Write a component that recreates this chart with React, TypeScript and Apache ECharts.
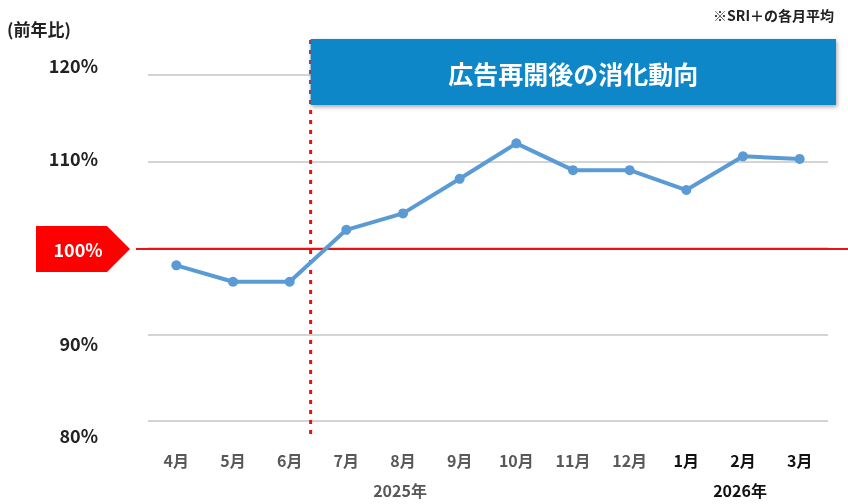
import React, { useEffect, useRef } from "react";
import * as echarts from "echarts";

const months = ["4月", "5月", "6月", "7月", "8月", "9月", "10月", "11月", "12月", "1月", "2月", "3月"];
const values = [98.0, 96.1, 96.1, 102.1, 104.0, 108.0, 112.1, 109.0, 109.0, 106.7, 110.6, 110.3];
const yearLabels = [
  { text: "2025年", month: "8月", color: "#595959" },
  { text: "2026年", month: "2月", color: "#111111" },
];
const yTicks = { min: 80, max: 120, interval: 10 };
const baseline = 100;
const bannerText = "広告再開後の消化動向";
const noteText = "※SRI＋の各月平均";
const unitText = "(前年比)";

const FONT = "'Noto Sans CJK JP', 'Noto Sans', sans-serif";

export default function App() {
  const ref = useRef<HTMLDivElement>(null);
  useEffect(() => {
    const el = ref.current!;
    const chart = echarts.init(el, null, { renderer: "svg" });
    const option: any = {
      animation: false,
      textStyle: { fontFamily: FONT },
      grid: [
        { left: 148, right: 20, top: 75, bottom: 83 },
        { left: 148, right: 20, top: 65, bottom: 69 },
      ],
      xAxis: [
        {
          type: "category",
          gridIndex: 0,
          data: months,
          axisLine: { show: false },
          axisTick: { show: false },
          axisLabel: {
            interval: 0,
            margin: 31,
            fontFamily: FONT,
            formatter: (v: string, i: number) => (i >= 9 ? `{b|${v}}` : `{a|${v}}`),
            rich: {
              a: { color: "#595959", fontSize: 16, fontWeight: "bold", fontFamily: FONT },
              b: { color: "#111111", fontSize: 16, fontWeight: "bold", fontFamily: FONT },
            },
          },
        },
        {
          type: "category",
          gridIndex: 1,
          data: months,
          show: false,
        },
      ],
      yAxis: [
        {
          type: "value",
          gridIndex: 0,
          min: yTicks.min,
          max: yTicks.max,
          interval: yTicks.interval,
          axisLine: { show: false },
          axisTick: { show: false },
          axisLabel: { show: false },
          splitLine: { lineStyle: { color: "#d4d4d4", width: 2 } },
        },
        {
          type: "value",
          gridIndex: 1,
          min: yTicks.min,
          max: yTicks.max,
          interval: yTicks.interval,
          axisLine: { show: false },
          axisTick: { show: false },
          splitLine: { show: false },
          axisLabel: {
            margin: 50,
            fontSize: 18,
            fontWeight: "bold",
            color: "#222222",
            fontFamily: FONT,
            formatter: (v: number) => (v === baseline ? "" : `${v}%`),
          },
        },
      ],
      series: [
        {
          type: "line",
          xAxisIndex: 0,
          yAxisIndex: 0,
          data: values,
          symbol: "circle",
          symbolSize: 10,
          lineStyle: { color: "#5b9bd5", width: 4 },
          itemStyle: { color: "#5b9bd5" },
          z: 5,
        },
      ],
    };
    chart.setOption(option);

    const yBase = chart.convertToPixel({ yAxisIndex: 0 }, baseline) + 1;
    const x6 = chart.convertToPixel({ xAxisIndex: 0 }, "6月");
    const x7 = chart.convertToPixel({ xAxisIndex: 0 }, "7月");
    const xDiv = x6 + (x7 - x6) * 0.37;
    const yBottom = chart.convertToPixel({ yAxisIndex: 0 }, yTicks.min) + 15;
    const yearEls = yearLabels.map((y) => ({
      type: "text",
      x: chart.convertToPixel({ xAxisIndex: 0 }, y.month) - 3,
      y: 490,
      style: {
        text: y.text,
        fill: y.color,
        font: `bold 16px ${FONT}`,
        align: "center",
        verticalAlign: "middle",
      },
    }));

    chart.setOption({
      graphic: [
        {
          type: "text",
          x: 7,
          y: 28,
          style: { text: unitText, fill: "#222222", font: `bold 17px ${FONT}`, verticalAlign: "middle" },
        },
        {
          type: "text",
          x: 834,
          y: 15,
          style: { text: noteText, fill: "#222222", font: `bold 14px ${FONT}`, align: "right", verticalAlign: "middle" },
        },
        {
          type: "line",
          shape: { x1: xDiv, y1: 40, x2: xDiv, y2: yBottom },
          style: { stroke: "#ee1111", lineWidth: 3, lineDash: [4, 6] },
          z: 3,
        },
        {
          type: "rect",
          shape: { x: xDiv, y: 39, width: 836 - xDiv, height: 66 },
          style: {
            fill: "#0a87c8",
            shadowBlur: 4,
            shadowColor: "rgba(0,0,0,0.35)",
            shadowOffsetX: 1,
            shadowOffsetY: 2,
          },
          z: 10,
        },
        {
          type: "text",
          x: (xDiv + 836) / 2,
          y: 73,
          style: {
            text: bannerText,
            fill: "#ffffff",
            font: `bold 25px ${FONT}`,
            align: "center",
            verticalAlign: "middle",
          },
          z: 11,
        },
        {
          type: "line",
          shape: { x1: 136, y1: yBase, x2: 848, y2: yBase },
          style: { stroke: "#ee1111", lineWidth: 2 },
          z: 4,
        },
        {
          type: "polygon",
          shape: {
            points: [
              [36, yBase - 23],
              [107, yBase - 23],
              [130, yBase],
              [107, yBase + 23],
              [36, yBase + 23],
            ],
          },
          style: { fill: "#ff0000" },
          z: 10,
        },
        {
          type: "text",
          x: 78,
          y: yBase,
          style: {
            text: `${baseline}%`,
            fill: "#ffffff",
            font: `bold 18px ${FONT}`,
            align: "center",
            verticalAlign: "middle",
          },
          z: 11,
        },
        ...yearEls,
      ],
    });

    return () => chart.dispose();
  }, []);
  return <div ref={ref} style={{ width: 848, height: 504, position: "fixed", left: 0, top: 0 }} />;
}
